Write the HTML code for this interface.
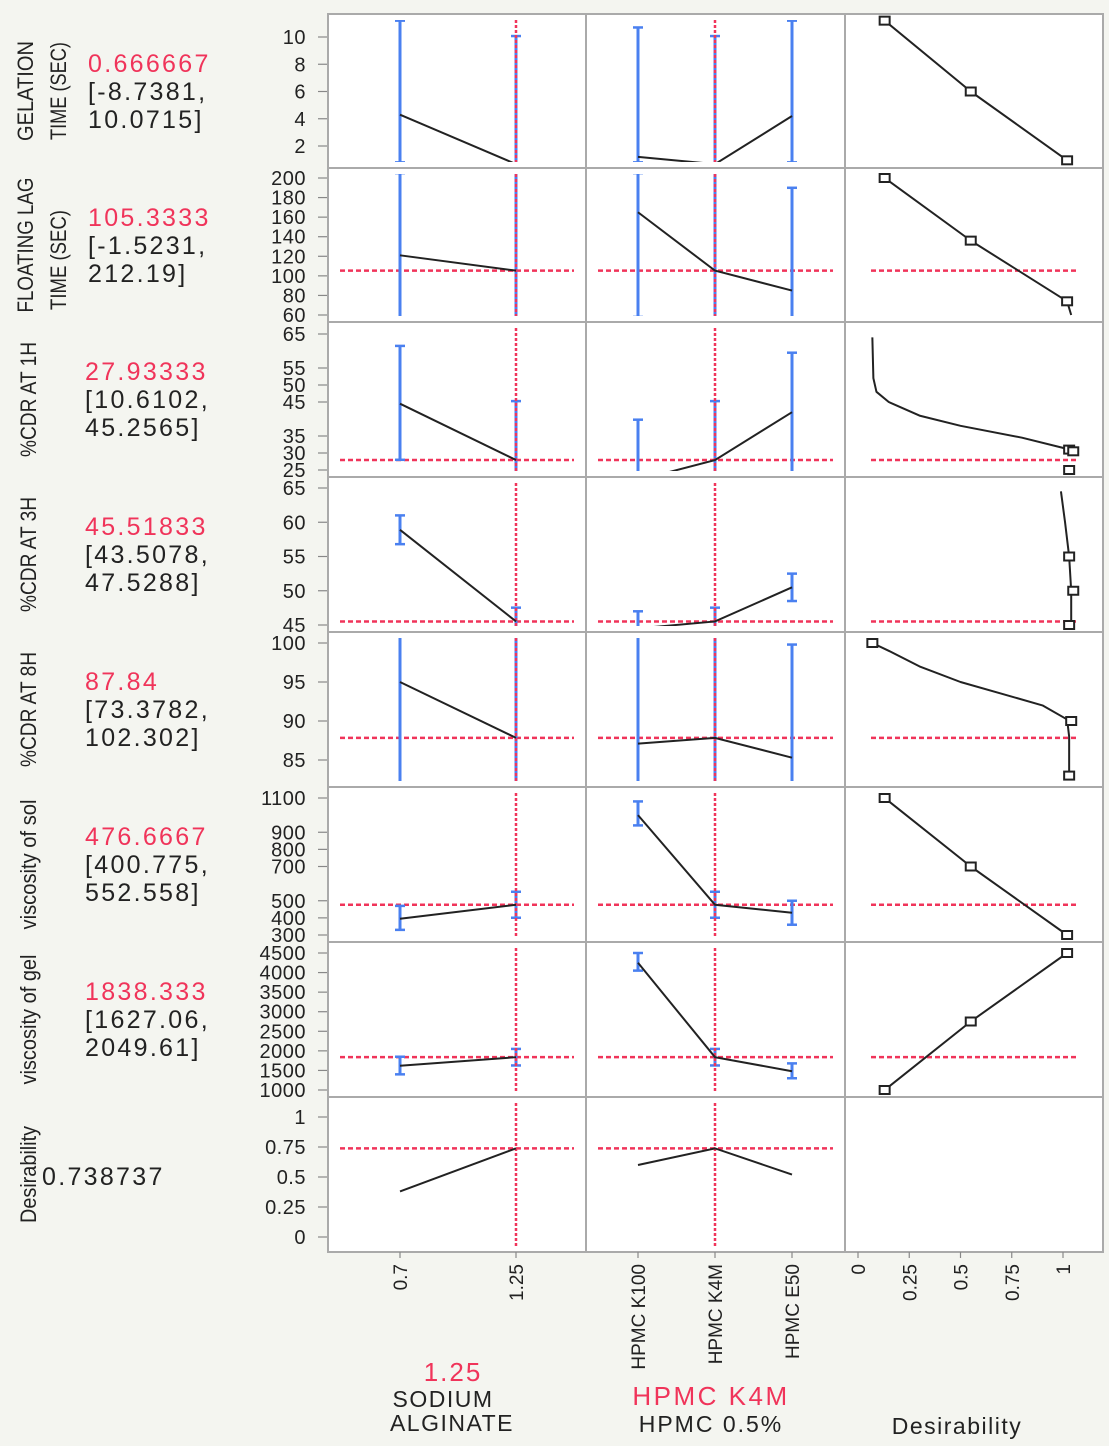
<!DOCTYPE html>
<html><head><meta charset="utf-8"><style>
html,body{margin:0;padding:0;background:#f4f5f0;}
svg{display:block;font-family:"Liberation Sans",sans-serif;}
</style></head><body>
<svg id="chart" width="1109" height="1446" viewBox="0 0 1109 1446" xmlns="http://www.w3.org/2000/svg"></svg>
<script>
// ---- data ----
const responseNames = [["GELATION","TIME (SEC)"],["FLOATING LAG","TIME (SEC)"],["%CDR AT 1H"],["%CDR AT 3H"],["%CDR AT 8H"],["viscosity of sol"],["viscosity of gel"],["Desirability"]];
const predicted = [0.666667,105.3333,27.93333,45.51833,87.84,476.6667,1838.333,0.738737];
const predLabels = ["0.666667","105.3333","27.93333","45.51833","87.84","476.6667","1838.333","0.738737"];
const ciLabels = [["[-8.7381,","10.0715]"],["[-1.5231,","212.19]"],["[10.6102,","45.2565]"],["[43.5078,","47.5288]"],["[73.3782,","102.302]"],["[400.775,","552.558]"],["[1627.06,","2049.61]"],null];
const yTicks = [[2,4,6,8,10],[60,80,100,120,140,160,180,200],[25,30,35,45,50,55,65],[45,50,55,60,65],[85,90,95,100],[300,400,500,700,800,900,1100],[1000,1500,2000,2500,3000,3500,4000,4500],[0,0.25,0.5,0.75,1]];
const axisVals = [[10,2],[200,60],[65,25],[65,45],[100,85],[1100,300],[4500,1000],[1,0]];
const alginateLevels = [0.7,1.25];
const alginateCurrent = 1.25;
const alginateMeans = [[4.3,0.67],[121,105.33],[44.5,27.93],[58.9,45.52],[95,87.84],[395,476.67],[1620,1838.3],[0.38,0.7387]];
const alginateLo = [[0.8,-8.7],[55,-1.5],[28,10.6],[56.8,43.5],[80,73.4],[330,400.8],[1400,1627],null];
const alginateHi = [[11.2,10.07],[205,212],[61.5,45.26],[61,47.53],[110,102.3],[470,552.6],[1850,2049.6],null];
const hpmcLevels = ["HPMC K100","HPMC K4M","HPMC E50"];
const hpmcCurrent = 1;
const hpmcMeans = [[1.2,0.67,4.2],[165,105.33,85],[22,27.93,42],[44.5,45.52,50.5],[87.1,87.84,85.3],[1000,476.67,430],[4250,1838.3,1480],[0.6,0.7387,0.52]];
const hpmcLo = [[0.8,-8.7,0.8],[58,-1.5,50],[20,10.6,20],[40,43.5,48.5],[80,73.4,80],[940,400.8,360],[4050,1627,1300],null];
const hpmcHi = [[10.7,10.07,11.2],[205,212,190],[39.8,45.26,59.5],[47,47.53,52.5],[110,102.3,99.8],[1080,552.6,500],[4500,2049.6,1680],null];
const desD = [[0.13,0.55,1.02],[0.13,0.55,1.02,1.04],[0.07,0.075,0.09,0.15,0.3,0.5,0.8,1.0,1.03],[0.99,1.01,1.03,1.04,1.04],[0.07,0.15,0.3,0.5,0.7,0.9,1.02,1.03,1.03],[0.13,0.55,1.02],[0.13,0.55,1.02],null];
const desV = [[11.2,6,0.95],[200,136,74,60],[64,52,48,45,41,38,34.5,31.5,30.5],[64.5,60,55,50,45],[100,99,97,95,93.5,92,90.2,88,83],[1100,700,300],[1000,2750,4500],null];
const desMarkD = [[0.13,0.55,1.02],[0.13,0.55,1.02],[1.03,1.05,1.03],[1.03,1.05,1.03],[0.07,1.04,1.03],[0.13,0.55,1.02],[0.13,0.55,1.02],null];
const desMarkV = [[11.2,6,0.95],[200,136,74],[31,30.5,25],[55,50,45],[100,90,83],[1100,700,300],[1000,2750,4500],null];
const desTicks = [0,0.25,0.5,0.75,1];
const desTickLabels = ["0","0.25","0.5","0.75","1"];
const showHLine = [false,true,true,true,true,true,true,true];

// ---- layout ----
const rowTop=[14,168,322,477,632,787,942,1097], rowBot=[168,322,477,632,787,942,1097,1252];
const axisPix=[[37,146],[178,315],[334,470],[488,625],[643,760],[798,935],[953,1090],[1117,1237]];
const titleLen=[[100,98],[135,100],[115],[115],[115],[130],[130],[97]];
const colX=[[328,586],[586,845],[845,1103]];
const NS="http://www.w3.org/2000/svg";
const svg=document.getElementById('chart');
function mk(tag,attrs,parent){const e=document.createElementNS(NS,tag);for(const k in attrs)e.setAttribute(k,attrs[k]);(parent||svg).appendChild(e);return e;}
function yScale(r,v){const [v0,v1]=axisVals[r],[p0,p1]=axisPix[r];return p0+(v-v0)*(p1-p0)/(v1-v0);}
function xAlg(v){return 400+(v-0.7)*(516-400)/(1.25-0.7);}
function xHpmc(i){return 638+i*77;}
function xDes(d){return 858+d*(1063-858);}
const BLUE="#4a80f0", RED="#f0345a";
const defs=mk('defs',{});

for(let r=0;r<8;r++){
  for(let c=0;c<3;c++){
    const p=mk('rect',{x:colX[c][0],y:rowTop[r],width:colX[c][1]-colX[c][0],height:rowBot[r]-rowTop[r],fill:"#fff",stroke:"#aaa","stroke-width":2});
    
    
    const cp=mk('clipPath',{id:'cp'+r+'_'+c},defs);
    const ins = c===2?1:6;
    mk('rect',{x:colX[c][0]+1,y:rowTop[r]+ins,width:colX[c][1]-colX[c][0]-2,height:rowBot[r]-rowTop[r]-2*ins},cp);
  }
  const yg=mk('g',{});
  
  
  yTicks[r].forEach(t=>{
    const y=yScale(r,t);
    mk('line',{x1:318,x2:327,y1:y,y2:y,stroke:"#888","stroke-width":1.2},yg);
    const tx=mk('text',{x:306,y:y+7,"text-anchor":"end","font-size":20,fill:"#222","letter-spacing":"0.5"},yg);
    tx.textContent=String(t);
  });
  const names=responseNames[r];
  const cy=(rowTop[r]+rowBot[r])/2;
  names.forEach((n,i)=>{
    const xx = names.length===2 ? 33+i*33 : 36;
    const yy = cy+(r===1&&i===1?15:0);
    const t=mk('text',{x:xx,y:yy,transform:`rotate(-90 ${xx} ${yy})`,"text-anchor":"middle","font-size":22,fill:"#222",textLength:titleLen[r][i],lengthAdjust:"spacingAndGlyphs"});
    t.textContent=n;
    
    
  });
  if(r<7){
    const vx = r<2?88:85;
    const t1=mk('text',{x:vx,y:rowTop[r]+58,"font-size":25,fill:RED,"letter-spacing":"2.3"});
    t1.textContent=predLabels[r];
    
    
    ciLabels[r].forEach((s,i)=>{
      const t=mk('text',{x:vx,y:rowTop[r]+86+i*28,"font-size":25,fill:"#222","letter-spacing":"2.3"});
      t.textContent=s;
      
      
    });
  } else {
    const t=mk('text',{x:42,y:1185,"font-size":25,fill:"#222","letter-spacing":"2.3"});
    t.textContent=predLabels[r];
    
    
  }
  const yp=yScale(r,predicted[r]);
  for(let c=0;c<2;c++){
    const g=mk('g',{"clip-path":`url(#cp${r}_${c})`});
    
    
    const xs = c===0 ? alginateLevels.map(xAlg) : hpmcLevels.map((_,i)=>xHpmc(i));
    const means = c===0?alginateMeans[r]:hpmcMeans[r];
    const lo = c===0?alginateLo[r]:hpmcLo[r];
    const hi = c===0?alginateHi[r]:hpmcHi[r];
    const xc = c===0 ? xAlg(alginateCurrent) : xHpmc(hpmcCurrent);
    if(showHLine[r]) mk('line',{x1:colX[c][0]+12,x2:colX[c][1]-12,y1:yp,y2:yp,stroke:RED,"stroke-width":2.5,"stroke-dasharray":"5 3"},g);
    if(lo){
      xs.forEach((x,i)=>{
        const y1=yScale(r,hi[i]),y2=yScale(r,lo[i]);
        const b=mk('g',{},g);
        
        
        mk('line',{x1:x,x2:x,y1:y1,y2:y2,stroke:BLUE,"stroke-width":3},b);
        mk('line',{x1:x-5,x2:x+5,y1:y1,y2:y1,stroke:BLUE,"stroke-width":2.5},b);
        mk('line',{x1:x-5,x2:x+5,y1:y2,y2:y2,stroke:BLUE,"stroke-width":2.5},b);
      });
    }
    mk('line',{x1:xc,x2:xc,y1:rowTop[r]+6,y2:rowBot[r]-6,stroke:RED,"stroke-width":2.5,"stroke-dasharray":"3 2"},g);
    const pl=mk('polyline',{points:xs.map((x,i)=>x+','+yScale(r,means[i])).join(' '),fill:"none",stroke:"#222","stroke-width":2},g);
    
    
  }
  if(desD[r]){
    const g=mk('g',{"clip-path":`url(#cp${r}_2)`});
    
    
    if(showHLine[r]) mk('line',{x1:colX[2][0]+26,x2:colX[2][1]-26,y1:yp,y2:yp,stroke:RED,"stroke-width":2.5,"stroke-dasharray":"5 3"},g);
    mk('polyline',{points:desD[r].map((d,i)=>xDes(d)+','+yScale(r,desV[r][i])).join(' '),fill:"none",stroke:"#222","stroke-width":2,"stroke-linejoin":"round"},g);
    desMarkD[r].forEach((d,i)=>{
      const m=mk('rect',{x:xDes(d)-5,y:yScale(r,desMarkV[r][i])-4,width:10,height:8,fill:"#fff",stroke:"#222","stroke-width":2},g);
      
      
    });
  }
}
function rotLabel(x,text,name){
  const y=1264;
  mk('line',{x1:x,x2:x,y1:1252,y2:1258,stroke:"#888","stroke-width":1.2});
  const t=mk('text',{x:x+7,y:y,transform:`rotate(-90 ${x+7} ${y})`,"text-anchor":"end","font-size":19,fill:"#222"});
  t.textContent=text;
  
  
}
alginateLevels.forEach(v=>rotLabel(xAlg(v),String(v),'x-tick-alginate'));
hpmcLevels.forEach((v,i)=>rotLabel(xHpmc(i),v,'x-tick-hpmc'));
desTicks.forEach((v,i)=>rotLabel(xDes(v),desTickLabels[i],'x-tick-desirability'));
function lbl(x,y,s,col,name,inter,fs,ls){
  const t=mk('text',{x:x,y:y,"text-anchor":"middle","font-size":fs,fill:col,"letter-spacing":ls});
  t.textContent=s;
  
  
}
lbl(453,1381,"1.25",RED,"alginate-current-value",true,26,2);
lbl(443,1407,"SODIUM","#222","alginate-axis-title",false,23,1.5);
lbl(452,1431,"ALGINATE","#222","alginate-axis-title-line2",false,23,1.5);
lbl(711,1405,"HPMC K4M",RED,"hpmc-current-value",true,26,2.5);
lbl(711,1432,"HPMC 0.5%","#222","hpmc-axis-title",false,23,2);
lbl(957,1434,"Desirability","#222","desirability-axis-title",false,23,1.5);
</script>
</body></html>
